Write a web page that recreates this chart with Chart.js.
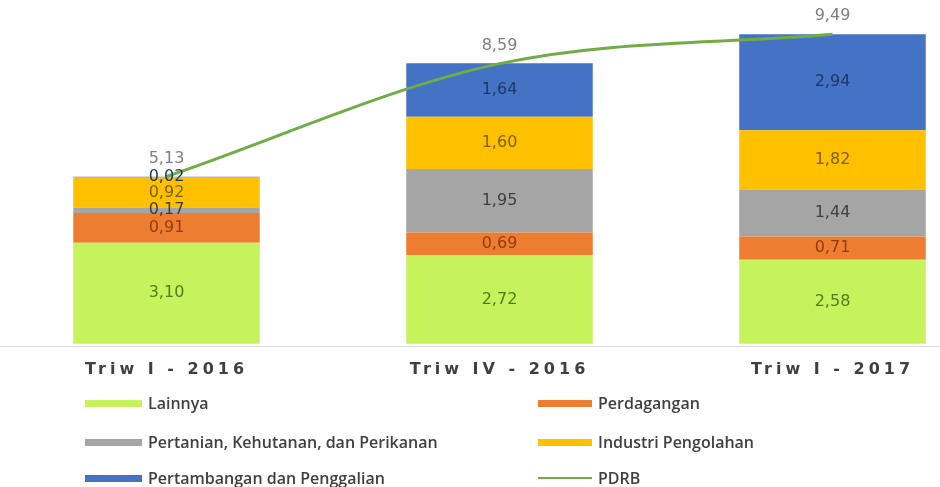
<!DOCTYPE html>
<html>
<head>
<meta charset="utf-8">
<script src="https://cdn.jsdelivr.net/npm/chart.js@4"></script>
<style>
  html, body { margin: 0; padding: 0; background: #fff; overflow: hidden; }
  #wrap { position: relative; width: 940px; height: 487px; overflow: hidden; }
  #box { position: absolute; left: 0; top: 0; width: 999px; height: 384px; }
  #legend { position: absolute; left: 0; top: 0; width: 940px; height: 487px; pointer-events: none; }
  .lg-item { position: absolute; display: flex; align-items: center; height: 20px;
             font-family: "Open Sans", sans-serif; font-size: 16px; font-weight: 600; color: #404040; }
  .lg-sw { display: inline-block; height: 7px; margin-right: 6px; }
</style>
</head>
<body>
<div id="wrap">
  <div id="box"><canvas id="chart"></canvas></div>
  <div id="legend"></div>
</div>
<script>
// ---- DATOS ----
var KATEGORI     = ["Triw I - 2016", "Triw IV - 2016", "Triw I - 2017"];
var LAINNYA      = [3.10, 2.72, 2.58];
var PERDAGANGAN  = [0.91, 0.69, 0.71];
var PERTANIAN    = [0.17, 1.95, 1.44];
var INDUSTRI     = [0.92, 1.60, 1.82];
var PERTAMBANGAN = [0.02, 1.64, 2.94];
var PDRB         = [5.13, 8.59, 9.49];

var SERIES = [
  { label: "Lainnya",                              data: LAINNYA,      color: "#c6f35c", txt: "#4e7d1e" },
  { label: "Perdagangan",                          data: PERDAGANGAN,  color: "#ed7d31", txt: "#943b0a" },
  { label: "Pertanian, Kehutanan, dan Perikanan",  data: PERTANIAN,    color: "#a5a5a5", txt: "#3f3f3f" },
  { label: "Industri Pengolahan",                  data: INDUSTRI,     color: "#ffc000", txt: "#7f6000" },
  { label: "Pertambangan dan Penggalian",          data: PERTAMBANGAN, color: "#4472c4", txt: "#1f3864" }
];
var LINE_COLOR = "#70ad47";

function fmt(v) { return v.toFixed(2).replace(".", ","); }

// ---- DATASETS ----
var datasets = [{
  type: "line",
  label: "PDRB",
  data: PDRB,
  stack: "pdrb",
  order: 0,
  borderColor: LINE_COLOR,
  borderWidth: 3,
  pointRadius: 0,
  fill: false,
  tension: 0.4,
  cubicInterpolationMode: "monotone",
  _txt: "#7f7f7f"
}];
SERIES.forEach(function(s) {
  datasets.push({
    type: "bar",
    label: s.label,
    data: s.data,
    stack: "a",
    order: 1,
    backgroundColor: s.color,
    borderWidth: 0,
    categoryPercentage: 0.56,
    barPercentage: 1,
    _txt: s.txt
  });
});

// ---- PLUGINS ----
var spacingPlugin = {
  id: "spacing",
  beforeDraw: function(chart) { chart.ctx.letterSpacing = "4px"; },
  beforeDatasetsDraw: function(chart) { chart.ctx.letterSpacing = "0px"; }
};

var labelsPlugin = {
  id: "valLabels",
  afterDatasetsDraw: function(chart) {
    var ctx = chart.ctx;
    ctx.save();
    ctx.letterSpacing = "0px";
    ctx.font = "16px 'DejaVu Sans', sans-serif";
    ctx.textAlign = "center";
    ctx.textBaseline = "middle";
    chart.data.datasets.forEach(function(ds, di) {
      var meta = chart.getDatasetMeta(di);
      meta.data.forEach(function(el, i) {
        ctx.fillStyle = ds._txt;
        if (ds.type === "line") {
          ctx.fillText(fmt(ds.data[i]), el.x, el.y - 18);
        } else {
          ctx.fillText(fmt(ds.data[i]), el.x, (el.y + el.base) / 2);
        }
      });
    });
    ctx.restore();
  }
};

// ---- CHART ----
new Chart(document.getElementById("chart"), {
  data: { labels: KATEGORI, datasets: datasets },
  options: {
    responsive: true,
    maintainAspectRatio: false,
    animation: false,
    layout: { padding: 0 },
    plugins: { legend: { display: false }, tooltip: { enabled: false } },
    scales: {
      x: {
        stacked: true,
        offset: true,
        grid: { display: false },
        border: { display: true, color: "#d9d9d9", width: 1 },
        ticks: { color: "#404040", padding: 5, font: { family: "DejaVu Sans", size: 16, weight: "bold" } }
      },
      y: { stacked: true, display: false, min: -0.09, max: 10.54 }
    }
  },
  plugins: [spacingPlugin, labelsPlugin]
});

// ---- LEYENDA ----
var LEGEND_ITEMS = SERIES.map(function(s) { return { label: s.label, color: s.color, line: false }; });
LEGEND_ITEMS.push({ label: "PDRB", color: LINE_COLOR, line: true });
var COL_X  = [85, 538];
var COL_W  = [57, 54];
var ROW_Y  = [403, 442, 478];
var lg = document.getElementById("legend");
LEGEND_ITEMS.forEach(function(it, i) {
  var col = i % 2, row = Math.floor(i / 2);
  var d = document.createElement("div");
  d.className = "lg-item";
  d.style.left = COL_X[col] + "px";
  d.style.top = (ROW_Y[row] - 10) + "px";
  var sw = document.createElement("span");
  sw.className = "lg-sw";
  sw.style.width = COL_W[col] + "px";
  sw.style.background = it.color;
  if (it.line) sw.style.height = "2px";
  d.appendChild(sw);
  d.appendChild(document.createTextNode(it.label));
  lg.appendChild(d);
});
</script>
</body>
</html>
